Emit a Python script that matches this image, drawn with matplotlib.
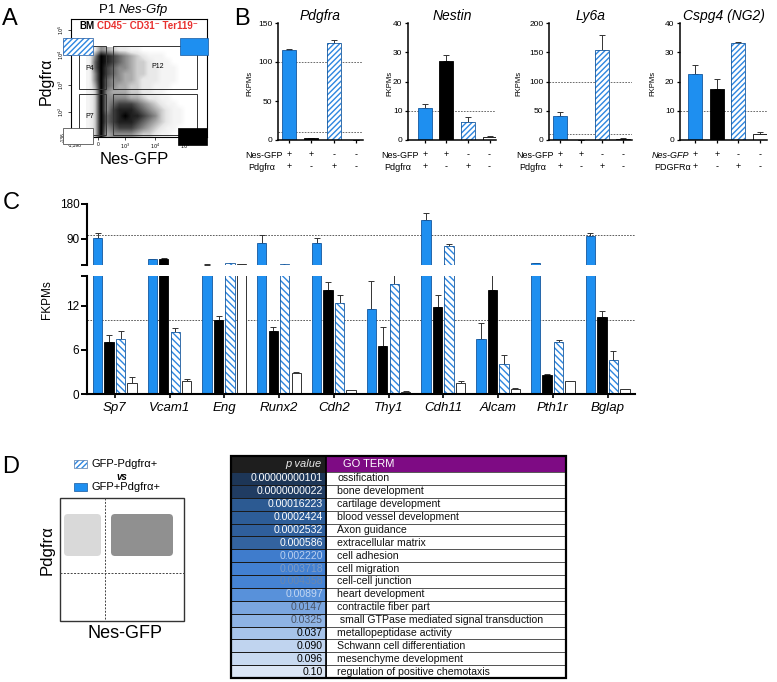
import numpy as np
import matplotlib
matplotlib.use('Agg')
import matplotlib.pyplot as plt
from matplotlib.patches import Rectangle, FancyBboxPatch
from matplotlib.colors import LinearSegmentedColormap

plt.rcParams['font.family'] = ['Liberation Sans', 'DejaVu Sans']
plt.rcParams['hatch.linewidth'] = 1.0

# ---------------- data ----------------
# Panel A: flow cytometry density (0-9); rows top->bottom, cols left->right
flow_density = [
    [0, 2, 5, 4, 3, 2, 2, 1, 1, 0, 0, 0, 0, 0, 0, 0, 0, 0],
    [1, 5, 9, 8, 7, 6, 5, 4, 3, 2, 1, 1, 1, 0, 0, 0, 0, 0],
    [1, 6, 9, 8, 7, 6, 5, 4, 3, 3, 2, 1, 1, 1, 0, 0, 0, 0],
    [1, 6, 9, 7, 6, 5, 5, 4, 3, 3, 2, 2, 1, 1, 1, 0, 0, 0],
    [1, 5, 9, 7, 6, 5, 4, 4, 3, 3, 2, 2, 1, 1, 1, 0, 0, 0],
    [1, 5, 9, 6, 5, 5, 4, 4, 3, 2, 2, 2, 1, 1, 1, 0, 0, 0],
    [1, 4, 9, 6, 5, 4, 4, 3, 3, 2, 2, 1, 1, 1, 0, 0, 0, 0],
    [1, 3, 9, 5, 4, 4, 4, 3, 3, 2, 2, 1, 1, 0, 0, 0, 0, 0],
    [1, 3, 9, 5, 5, 5, 5, 4, 4, 3, 2, 2, 1, 1, 0, 0, 0, 0],
    [1, 3, 9, 5, 6, 7, 7, 7, 6, 5, 4, 3, 2, 1, 1, 0, 0, 0],
    [1, 3, 9, 5, 7, 8, 8, 8, 7, 6, 5, 4, 3, 2, 1, 1, 0, 0],
    [1, 3, 9, 6, 7, 8, 9, 8, 8, 7, 6, 5, 3, 2, 1, 1, 0, 0],
    [1, 3, 9, 6, 7, 8, 8, 8, 7, 6, 5, 4, 3, 2, 1, 1, 0, 0],
    [1, 3, 9, 5, 6, 7, 7, 7, 6, 5, 4, 3, 2, 1, 1, 0, 0, 0],
    [1, 3, 9, 4, 5, 5, 5, 5, 4, 3, 3, 2, 1, 1, 0, 0, 0, 0],
]
gate_names = ['P4', 'P12', 'P7', '']

# Panel B
nes_signs = ['+', '+', '-', '-']
pdg_signs = ['+', '-', '+', '-']
b_titles = ['Pdgfra', 'Nestin', 'Ly6a', 'Cspg4 (NG2)']
pdgfra_mean = [115, 2, 125, 0]
pdgfra_err = [2, 0.5, 3, 0]
nestin_mean = [11, 27, 6.2, 1.0]
nestin_err = [1.3, 1.9, 1.5, 0.5]
ly6a_mean = [41, 0.5, 153, 2]
ly6a_err = [7, 0, 27, 0.6]
cspg4_mean = [22.5, 17.6, 33, 2]
cspg4_err = [3.3, 3.1, 0.6, 0.8]
b_ymax = [150, 40, 200, 40]
b_yticks = [[0, 50, 100, 150], [0, 10, 20, 30, 40], [0, 50, 100, 150, 200], [0, 10, 20, 30, 40]]
b_reflines = [[100, 10], [10], [100, 10], [10]]

# Panel C
c_genes = ['Sp7', 'Vcam1', 'Eng', 'Runx2', 'Cdh2', 'Thy1', 'Cdh11', 'Alcam', 'Pth1r', 'Bglap']
c_dp = [92, 38, 24, 80, 80, 11.5, 140, 7.45, 27.5, 97.5]
c_dp_err = [13, 1.5, 0.5, 20, 13, 3.8, 17, 2.2, 0.8, 7]
c_gfp = [7.0, 38.5, 10.1, 8.6, 14.1, 6.55, 11.8, 14.05, 2.6, 10.45]
c_gfp_err = [1.05, 1.5, 0.45, 0.5, 1.1, 2.6, 1.6, 3.0, 0.1, 0.85]
c_pdg = [7.4, 8.45, 28, 25.5, 12.3, 14.9, 72, 4.05, 7.1, 4.55]
c_pdg_err = [1.1, 0.55, 1.0, 0.5, 1.1, 1.5, 4, 1.25, 0.25, 1.25]
c_dn = [1.5, 1.7, 25, 2.9, 0.55, 0.3, 1.45, 0.64, 1.7, 0.65]
c_dn_err = [0.85, 0.3, 0.5, 0.05, 0.05, 0.05, 0.25, 0.13, 0.05, 0.05]

# Panel D
p_values = ['0.00000000101', '0.0000000022', '0.00016223', '0.0002424', '0.0002532',
            '0.000586', '0.002220', '0.003718', '0.004358', '0.00897', '0.0147',
            '0.0325', '0.037', '0.090', '0.096', '0.10']
go_terms = ['ossification', 'bone development', 'cartilage development',
            'blood vessel development', 'Axon guidance', 'extracellular matrix',
            'cell adhesion', 'cell migration', 'cell-cell junction', 'heart development',
            'contractile fiber part', ' small GTPase mediated signal transduction',
            'metallopeptidase activity', 'Schwann cell differentiation',
            'mesenchyme development', 'regulation of positive chemotaxis']
p_cell_colors = ['#1d3657', '#203c62', '#2c5a92', '#2d5d98', '#2f5f9c', '#33639f',
                 '#3f7ccc', '#4280d2', '#4583d4', '#5891da', '#7ba6df', '#8eb3e4',
                 '#a7c4ea', '#c0d4ef', '#c8daf1', '#dbe6f5']
p_text_colors = ['white'] * 6 + ['#b9cff0', '#7f9cc4', '#6a87ad', '#c2d6f2',
                                 '#4a5568', '#4a5568', 'black', 'black', 'black', 'black']

# ---------------- style ----------------
BLUE = '#1e8ff0'
BLUE_EDGE = '#15589e'
HATCH_BLUE = '#2d86e0'

W, H = 777, 682
fig = plt.figure(figsize=(W / 100, H / 100), dpi=100)


def px_axes(x0, y0, x1, y1):
    return fig.add_axes([x0 / W, 1 - y1 / H, (x1 - x0) / W, (y1 - y0) / H])


def bar_set(ax, xs, vals, errs, kind, width, hatch, white_edge='#222222'):
    xs = np.asarray(xs, float)
    if kind == 0:
        ax.bar(xs, vals, width, color=BLUE, edgecolor=BLUE_EDGE, linewidth=0.6, zorder=2)
    elif kind == 1:
        ax.bar(xs, vals, width, color='black', edgecolor='black', linewidth=0.6, zorder=2)
    elif kind == 2:
        ax.bar(xs, vals, width, color='white', edgecolor=HATCH_BLUE, hatch=hatch,
               linewidth=0, zorder=2)
        ax.bar(xs, vals, width, fill=False, edgecolor=BLUE_EDGE, linewidth=0.6, zorder=2.1)
    else:
        ax.bar(xs, vals, width, color='white', edgecolor=white_edge, linewidth=0.7, zorder=2)
    ax.errorbar(xs, vals, yerr=[np.zeros(len(vals)), errs], fmt='none', ecolor='#333333',
                elinewidth=0.7, capsize=2, capthick=0.7, zorder=1.5)


# ================= Panel A =================
axA = px_axes(71, 19, 207, 137)
cmap = LinearSegmentedColormap.from_list(
    'flow', [(0, 'white'), (0.25, '#e6e6e6'), (0.55, '#8c8c8c'), (0.8, '#3a3a3a'), (1, 'black')])
axA.imshow(np.array(flow_density), cmap=cmap, vmin=0, vmax=9, extent=(86, 194, 137, 47),
           interpolation='bilinear', aspect='auto', zorder=1)
axA.set_xlim(71, 207)
axA.set_ylim(137, 19)
gate_boxes = [(79, 46, 106, 89), (113, 46, 197, 89), (79, 94, 106, 135), (113, 94, 197, 135)]
gate_label_pos = [(90, 68), (158, 67), (90, 117), (0, 0)]
for (x0, y0, x1, y1), name, (lx, ly) in zip(gate_boxes, gate_names, gate_label_pos):
    axA.add_patch(Rectangle((x0, y0), x1 - x0, y1 - y0, fill=False, ec='#333333', lw=0.7, zorder=3))
    if name:
        axA.text(lx, ly, name, fontsize=5, ha='center', va='center', zorder=4)
axA.add_patch(Rectangle((63, 38), 30, 17, fc='white', ec=HATCH_BLUE, hatch='//////', lw=0,
                        clip_on=False, zorder=5))
axA.add_patch(Rectangle((63, 38), 30, 17, fill=False, ec='#3a6fb0', lw=0.6, clip_on=False, zorder=5))
axA.add_patch(Rectangle((180, 38), 28, 17, fc=BLUE, ec=BLUE_EDGE, lw=0.5, clip_on=False, zorder=5))
axA.add_patch(Rectangle((63, 128), 30, 16, fc='white', ec='#555555', lw=0.6, clip_on=False, zorder=5))
axA.add_patch(Rectangle((178, 128), 29, 17, fc='black', ec='black', lw=0.5, clip_on=False, zorder=5))
axA.text(79, 26, 'BM', fontsize=7, fontweight='bold', va='center', zorder=6)
axA.text(97, 26, 'CD45⁻ CD31⁻ Ter119⁻', fontsize=7, fontweight='bold', color='#e8302e',
         va='center', zorder=6)
for sp in axA.spines.values():
    sp.set_linewidth(0.8)
axA.set_xticks([75, 98, 125, 155, 185])
axA.set_xticklabels(['-1,398', '0', '$10^3$', '$10^4$', '$10^5$'], fontsize=3.5)
axA.set_yticks([30, 55, 85, 112, 137])
axA.set_yticklabels(['$10^5$', '$10^4$', '$10^3$', '$10^2$', '-136'], fontsize=3.5,
                    rotation=90, va='center')
axA.tick_params(length=2, width=0.5, pad=1.5)

# ================= Panel B =================
b_means = [pdgfra_mean, nestin_mean, ly6a_mean, cspg4_mean]
b_errs = [pdgfra_err, nestin_err, ly6a_err, cspg4_err]
b_layout = [(278, 289, 22.4, 363), (408, 425, 21.5, 496), (549, 560, 21.1, 632), (680, 695, 21.7, 767)]
for i in range(4):
    L, c0, sp, R = b_layout[i]
    ax = px_axes(L, 23, R, 140)
    xs = np.arange(4)
    for k in range(4):
        bar_set(ax, [xs[k]], [b_means[i][k]], [b_errs[i][k]], k, 14 / sp, '//////')
    for rl in b_reflines[i]:
        ax.axhline(rl, color='#555555', lw=0.6, ls=(0, (2, 1.5)), zorder=1)
    ax.set_xlim(-(c0 - L) / sp, 3 + (R - (c0 + 3 * sp)) / sp)
    ax.set_ylim(0, b_ymax[i])
    ax.set_yticks(b_yticks[i])
    ax.set_yticklabels([str(t) for t in b_yticks[i]], fontsize=6)
    ax.set_xticks(xs)
    ax.set_xticklabels([])
    ax.spines['top'].set_visible(False)
    ax.spines['right'].set_visible(False)
    ax.spines['left'].set_linewidth(1.1)
    ax.spines['bottom'].set_linewidth(1.1)
    ax.tick_params(length=2.5, width=0.9, pad=1.5)
    ax.set_title(b_titles[i], fontsize=10, fontstyle='italic', pad=2)

# ================= Panel C =================
axCu = px_axes(87, 204, 635, 265)
axCl = px_axes(87, 276, 635, 394)
gx = np.arange(len(c_genes))
offs = np.array([-1.5, -0.5, 0.5, 1.5]) * 0.21
c_vals = [c_dp, c_gfp, c_pdg, c_dn]
c_errs = [c_dp_err, c_gfp_err, c_pdg_err, c_dn_err]
for ax in (axCu, axCl):
    for k in range(4):
        bar_set(ax, gx + offs[k], c_vals[k], c_errs[k], k, 0.17, '\\\\\\\\\\',
                white_edge='#333333')
    ax.set_xlim(-0.507, 9.5)
    ax.spines['top'].set_visible(False)
    ax.spines['right'].set_visible(False)
    ax.spines['left'].set_linewidth(1.5)
    ax.tick_params(axis='y', length=4, width=1.4, labelsize=8.5, pad=1.5)
axCu.set_ylim(23, 180)
axCu.axhline(100, color='#444444', lw=0.6, ls=(0, (2, 1.5)), zorder=1)
axCu.set_yticks([23, 90, 180])
axCu.set_yticklabels(['', '90', '180'])
axCu.spines['bottom'].set_visible(False)
axCu.set_xticks([])
axCl.set_ylim(0, 16)
axCl.axhline(10, color='#444444', lw=0.6, ls=(0, (2, 1.5)), zorder=1)
axCl.set_yticks([0, 6, 12, 16])
axCl.set_yticklabels(['0', '6', '12', ''])
axCl.spines['bottom'].set_linewidth(1.5)
axCl.set_xticks(gx)
axCl.set_xticklabels(c_genes, fontsize=9.5, fontstyle='italic')
axCl.tick_params(axis='x', length=3, width=1.2, pad=3)

# ================= overlay (pixel coords) =================
ov = fig.add_axes([0, 0, 1, 1])
ov.set_xlim(0, W)
ov.set_ylim(H, 0)
ov.axis('off')
ov.patch.set_alpha(0)

for letter, (x, y) in zip('ABCD', [(2, 25), (234, 25), (3, 209), (2, 473)]):
    ov.text(x, y, letter, fontsize=17, ha='left', va='baseline')

# Panel A labels
ov.text(99, 13, 'P1 ', fontsize=9.5, va='baseline')
ov.text(119, 13, 'Nes-Gfp', fontsize=9.5, fontstyle='italic', va='baseline')
ov.text(46, 81, 'Pdgfrα', fontsize=11.5, rotation=90, ha='center', va='center')
ov.text(134, 159, 'Nes-GFP', fontsize=12, ha='center', va='center')

# Panel B labels
for i in range(4):
    L, c0, sp, R = b_layout[i]
    fx = [250, 390, 519, 653][i]
    ov.text(fx, 83, 'FKPMs', fontsize=5.5, rotation=90, ha='center', va='center')
    r1 = 'Nes-GFP'
    r2 = 'PDGFRα' if i == 3 else 'Pdgfrα'
    ov.text(c0 - 6, 155, r1, fontsize=6.5, ha='right', va='center',
            fontstyle='italic' if i == 3 else 'normal')
    ov.text(c0 - 6 - 35, 167, r2, fontsize=6.5, ha='left', va='center')
    for k in range(4):
        ov.text(c0 + k * sp, 155, nes_signs[k], fontsize=6.5, ha='center', va='center')
        ov.text(c0 + k * sp, 167, pdg_signs[k], fontsize=6.5, ha='center', va='center')

# Panel C label
ov.text(47, 300, 'FKPMs', fontsize=8.5, rotation=90, ha='center', va='center')

# Panel D legend + quadrant
ov.add_patch(Rectangle((74, 460), 13, 8, fc='white', ec=HATCH_BLUE, hatch='//////', lw=0))
ov.add_patch(Rectangle((74, 460), 13, 8, fill=False, ec='#6f8fb8', lw=0.6))
ov.text(92, 464, 'GFP-Pdgfrα+', fontsize=8, va='center')
ov.text(122, 477, 'vs', fontsize=7, fontweight='bold', fontstyle='italic', ha='center', va='center')
ov.add_patch(Rectangle((74, 483), 13, 8, fc=BLUE, ec=BLUE_EDGE, lw=0.5))
ov.text(92, 487, 'GFP+Pdgfrα+', fontsize=8, va='center')
ov.add_patch(Rectangle((60, 498), 124, 123, fill=False, ec='#333333', lw=1.0))
ov.plot([105, 105], [498, 621], color='#444444', lw=0.7, ls=(0, (2, 1.5)))
ov.plot([60, 184], [573, 573], color='#444444', lw=0.7, ls=(0, (2, 1.5)))
ov.add_patch(FancyBboxPatch((68, 518), 29, 34, boxstyle='round,pad=4', fc='#d9d9d9', ec='none'))
ov.add_patch(FancyBboxPatch((115, 518), 54, 34, boxstyle='round,pad=4', fc='#909090', ec='none'))
ov.text(47, 550, 'Pdgfrα', fontsize=12, rotation=90, ha='center', va='center')
ov.text(125, 633, 'Nes-GFP', fontsize=13, ha='center', va='center')

# Panel D table
tx0, tx1, tx2 = 231, 326, 566
ty0, ty1, ty2 = 456, 472, 678
rh = (ty2 - ty1) / len(p_values)
ov.add_patch(Rectangle((tx0, ty0), tx1 - tx0, ty1 - ty0, fc='#1e1e1e', ec='none'))
ov.add_patch(Rectangle((tx1, ty0), tx2 - tx1, ty1 - ty0, fc='#7e0b84', ec='none'))
ov.text(tx1 - 4, (ty0 + ty1) / 2, 'p value', fontsize=8, fontstyle='italic', color='#e8e8e8',
        ha='right', va='center')
ov.text(tx1 + 17, (ty0 + ty1) / 2, 'GO TERM', fontsize=8, color='white', ha='left', va='center')
for i, (pv, term) in enumerate(zip(p_values, go_terms)):
    y0 = ty1 + i * rh
    ov.add_patch(Rectangle((tx0, y0), tx1 - tx0, rh, fc=p_cell_colors[i], ec='#1a1a1a', lw=0.7))
    ov.add_patch(Rectangle((tx1, y0), tx2 - tx1, rh, fc='white', ec='#555555', lw=0.7))
    ov.text(tx1 - 3, y0 + rh / 2, pv, fontsize=7.6, color=p_text_colors[i], ha='right', va='center')
    ov.text(tx1 + 11, y0 + rh / 2, term, fontsize=7.6, color='#111111', ha='left', va='center')
ov.add_patch(Rectangle((tx0, ty0), tx2 - tx0, ty2 - ty0, fill=False, ec='black', lw=1.6))
ov.plot([tx1, tx1], [ty0, ty2], color='black', lw=1.2)

fig.savefig('out.png', dpi=100)
